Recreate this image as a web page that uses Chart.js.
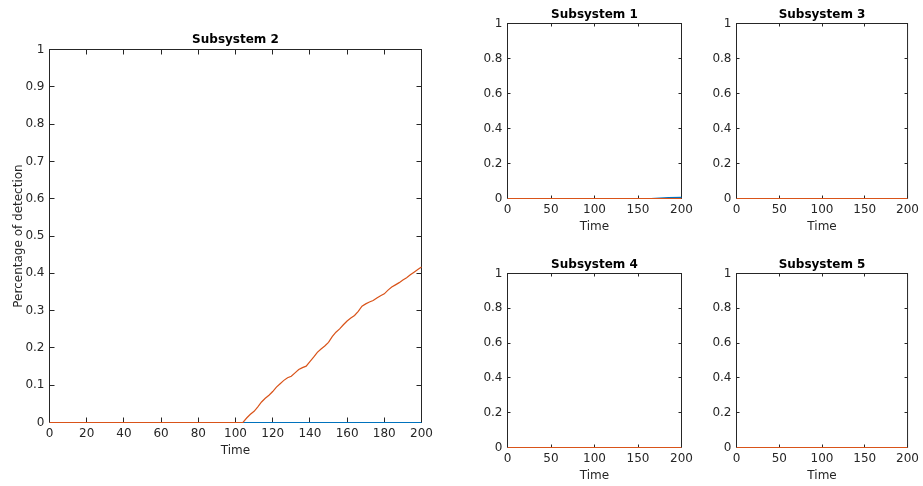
<!DOCTYPE html>
<html>
<head>
<meta charset="utf-8">
<script src="https://cdn.jsdelivr.net/npm/chart.js@4.4.1/dist/chart.umd.min.js"></script>
<style>
  body { margin: 0; background: #fff; }
  #wrap { position: relative; width: 923px; height: 486px; background: #fff; }
  #wrap canvas { position: absolute; left: 0; top: 0; }
</style>
</head>
<body>
<div id="wrap">
  <canvas id="sub2" width="923" height="486"></canvas>
  <canvas id="sub1" width="923" height="486"></canvas>
  <canvas id="sub3" width="923" height="486"></canvas>
  <canvas id="sub4" width="923" height="486"></canvas>
  <canvas id="sub5" width="923" height="486"></canvas>
</div>
<script>
// Subsystem 2: detection ratio over time
const sub2TimeA = [0, 200];
const sub2LineA = [0, 0];
const sub2TimeB = [0, 104, 106, 108, 110, 112, 114, 116, 118, 120, 122, 124, 126, 128, 130,
  132, 134, 136, 138, 140, 142, 144, 146, 148, 150, 152, 154, 156, 158, 160, 162, 164, 166,
  168, 170, 172, 174, 176, 178, 180, 182, 184, 186, 188, 190, 192, 194, 196, 198, 200];
const sub2LineB = [0, 0, 0.012, 0.022, 0.030, 0.042, 0.055, 0.065, 0.073, 0.083, 0.095, 0.104,
  0.113, 0.120, 0.124, 0.133, 0.142, 0.147, 0.151, 0.163, 0.175, 0.188, 0.197, 0.205, 0.215,
  0.230, 0.242, 0.251, 0.262, 0.272, 0.280, 0.287, 0.298, 0.312, 0.318, 0.323, 0.327, 0.334,
  0.340, 0.345, 0.355, 0.363, 0.369, 0.375, 0.382, 0.388, 0.396, 0.403, 0.410, 0.417];

// Subsystem 1: only a tiny rise at the end
const sub1TimeA = [0, 165, 175, 185, 200];
const sub1LineA = [0, 0, 0.003, 0.005, 0.006];
const sub1TimeB = [0, 200];
const sub1LineB = [0, 0];

// Subsystems 3, 4, 5 stay at zero
const flatTime = [0, 200];
const sub3LineA = [0, 0];
const sub3LineB = [0, 0];
const sub4LineA = [0, 0];
const sub4LineB = [0, 0];
const sub5LineA = [0, 0];
const sub5LineB = [0, 0];

const mainXTicks = 20, mainYTicks = 0.1;
const subXTicks = 50, subYTicks = 0.2;

const BLUE = '#0072BD';
const ORANGE = '#D95319';
const INK = '#262626';
const W = 923, H = 486;

Chart.defaults.font.family = 'DejaVu Sans';
Chart.defaults.font.size = 12;
Chart.defaults.color = INK;

// box around the axes with inward ticks on all four sides, plus the bold title
const boxPlugin = {
  id: 'boxPlugin',
  beforeDatasetsDraw(chart, args, opts) {
    const { ctx, chartArea: a, scales: { x, y } } = chart;
    const len = opts.tickLen;
    ctx.save();
    ctx.strokeStyle = INK;
    ctx.lineWidth = 1;
    ctx.strokeRect(a.left, a.top, a.right - a.left, a.bottom - a.top);
    ctx.beginPath();
    x.ticks.forEach(t => {
      const px = Math.round(x.getPixelForValue(t.value) - 0.5) + 0.5;
      ctx.moveTo(px, a.bottom); ctx.lineTo(px, a.bottom - len);
      ctx.moveTo(px, a.top); ctx.lineTo(px, a.top + len);
    });
    y.ticks.forEach(t => {
      const py = Math.round(y.getPixelForValue(t.value) - 0.5) + 0.5;
      ctx.moveTo(a.left, py); ctx.lineTo(a.left + len, py);
      ctx.moveTo(a.right, py); ctx.lineTo(a.right - len, py);
    });
    ctx.stroke();
    ctx.fillStyle = '#000';
    ctx.font = 'bold 12px DejaVu Sans';
    ctx.textAlign = 'center';
    ctx.textBaseline = 'alphabetic';
    ctx.fillText(opts.title, (a.left + a.right) / 2, a.top - opts.titleGap);
    ctx.restore();
  }
};

function points(xs, ys) {
  return xs.map((v, i) => ({ x: v, y: ys[i] }));
}

// "1" and "0" rather than "1.0"
const plainNumber = v => String(Number(v.toFixed(3)));

function makePanel(id, cfg) {
  const yW = cfg.yWidth, xH = 40;
  new Chart(document.getElementById(id), {
    type: 'line',
    data: {
      datasets: [
        { data: points(cfg.timeA, cfg.lineA), borderColor: BLUE, order: 1 },
        { data: points(cfg.timeB, cfg.lineB), borderColor: ORANGE, order: 0 }
      ].map(d => Object.assign(d, { borderWidth: 1.2, pointRadius: 0, tension: 0, clip: false }))
    },
    options: {
      responsive: false,
      animation: false,
      events: [],
      layout: {
        padding: {
          left: cfg.left + 0.5 - yW,
          top: cfg.top + 0.5,
          right: W - cfg.right - 0.5,
          bottom: H - cfg.bottom - 0.5 - xH
        }
      },
      plugins: {
        legend: { display: false },
        tooltip: { enabled: false },
        boxPlugin: { title: cfg.title, tickLen: cfg.tickLen, titleGap: cfg.titleGap }
      },
      scales: {
        x: {
          type: 'linear', min: 0, max: 200,
          grid: { display: false, drawTicks: false },
          border: { display: false },
          ticks: { stepSize: cfg.xStep, autoSkip: false, maxRotation: 0, padding: 4, callback: plainNumber },
          title: { display: true, text: 'Time', padding: { top: 0, bottom: 4 } },
          afterFit(s) { s.height = xH; }
        },
        y: {
          type: 'linear', min: 0, max: 1,
          grid: { display: false, drawTicks: false },
          border: { display: false },
          ticks: { stepSize: cfg.yStep, autoSkip: false, padding: 5, callback: plainNumber },
          title: { display: !!cfg.yTitle, text: cfg.yTitle || '', padding: { top: 11, bottom: 0 } },
          afterFit(s) { s.width = yW; }
        }
      }
    },
    plugins: [boxPlugin]
  });
}

makePanel('sub2', {
  title: 'Subsystem 2', left: 49, top: 49, right: 421, bottom: 422, yWidth: 49,
  timeA: sub2TimeA, lineA: sub2LineA, timeB: sub2TimeB, lineB: sub2LineB,
  xStep: mainXTicks, yStep: mainYTicks, tickLen: 5, titleGap: 7,
  yTitle: 'Percentage of detection'
});
makePanel('sub1', {
  title: 'Subsystem 1', left: 507, top: 23, right: 681, bottom: 198, yWidth: 40,
  timeA: sub1TimeA, lineA: sub1LineA, timeB: sub1TimeB, lineB: sub1LineB,
  xStep: subXTicks, yStep: subYTicks, tickLen: 3, titleGap: 6
});
makePanel('sub3', {
  title: 'Subsystem 3', left: 736, top: 23, right: 910, bottom: 198, yWidth: 40,
  timeA: flatTime, lineA: sub3LineA, timeB: flatTime, lineB: sub3LineB,
  xStep: subXTicks, yStep: subYTicks, tickLen: 3, titleGap: 6
});
makePanel('sub4', {
  title: 'Subsystem 4', left: 507, top: 273, right: 681, bottom: 447, yWidth: 40,
  timeA: flatTime, lineA: sub4LineA, timeB: flatTime, lineB: sub4LineB,
  xStep: subXTicks, yStep: subYTicks, tickLen: 3, titleGap: 6
});
makePanel('sub5', {
  title: 'Subsystem 5', left: 736, top: 273, right: 910, bottom: 447, yWidth: 40,
  timeA: flatTime, lineA: sub5LineA, timeB: flatTime, lineB: sub5LineB,
  xStep: subXTicks, yStep: subYTicks, tickLen: 3, titleGap: 6
});
</script>
</body>
</html>
